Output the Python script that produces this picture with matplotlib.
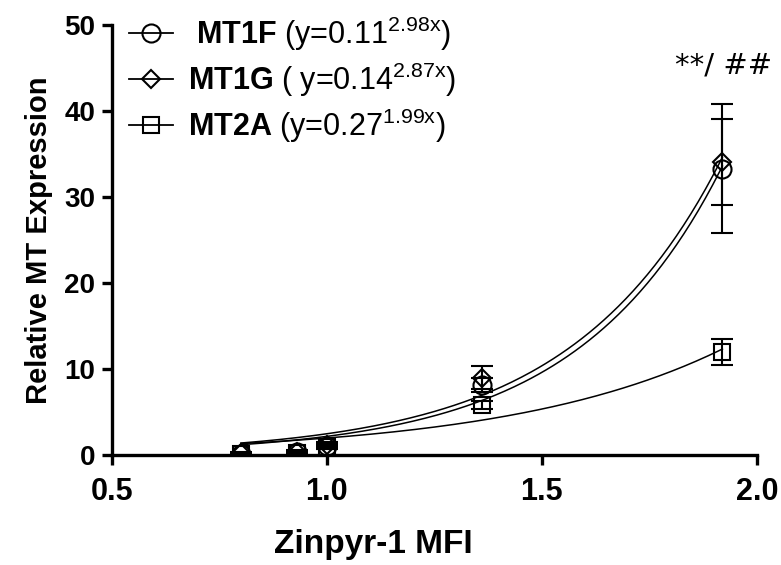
import numpy as np
import matplotlib.pyplot as plt

plt.rcParams['font.family'] = ['Liberation Sans', 'DejaVu Sans']
plt.rcParams['mathtext.fontset'] = 'custom'
plt.rcParams['mathtext.rm'] = 'Liberation Sans'
plt.rcParams['mathtext.it'] = 'Liberation Sans:italic'
plt.rcParams['mathtext.bf'] = 'Liberation Sans:bold'

# Zinpyr-1 MFI for each group
x_mfi = [0.80, 0.93, 1.00, 1.36, 1.92]

# relative expression (mean) and error
mt1f = [0.1, 0.3, 1.0, 8.1, 33.3]
mt1f_err = [0.1, 0.2, 0.3, 0.8, 7.5]
mt1g = [0.2, 0.4, 1.2, 9.0, 34.1]
mt1g_err = [0.1, 0.2, 0.3, 1.3, 5.0]
mt2a = [0.1, 0.2, 0.9, 5.8, 12.0]
mt2a_err = [0.1, 0.1, 0.2, 0.5, 1.5]

# exponential fit parameters y = a * exp(b * x)
names = ['MT1F', 'MT1G', 'MT2A']
fit_a = [0.11, 0.14, 0.27]
fit_b = [2.98, 2.87, 1.99]
markers = ['o', 'D', 's']
msizes = [13, 9.5, 12]

series = [(mt1f, mt1f_err), (mt1g, mt1g_err), (mt2a, mt2a_err)]

fig = plt.figure(figsize=(7.81, 5.65), dpi=100)
ax = fig.add_axes([0.1434, 0.1947, 0.8256, 0.7611])

xfit = np.linspace(min(x_mfi), max(x_mfi), 200)
handles = []
for i, (vals, errs) in enumerate(series):
    ax.errorbar(x_mfi, vals, yerr=errs, fmt='none', ecolor='black',
                elinewidth=1.5, capsize=8, capthick=1.5, zorder=2)
    ax.plot(xfit, fit_a[i] * np.exp(fit_b[i] * xfit), color='black', lw=1.1, zorder=2)
    ax.plot(x_mfi, vals, linestyle='none', marker=markers[i], ms=msizes[i],
            mfc='none', mec='black', mew=1.5, zorder=3)
    h, = ax.plot([], [], color='black', lw=1.3, marker=markers[i], ms=msizes[i],
                 mfc='none', mec='black', mew=1.5)
    handles.append(h)

labels = [r' $\mathbf{MT1F}$ (y=0.11$^{\mathrm{2.98x}}$)',
          r'$\mathbf{MT1G}$ ( y=0.14$^{\mathrm{2.87x}}$)',
          r'$\mathbf{MT2A}$ (y=0.27$^{\mathrm{1.99x}}$)']
ax.legend(handles, labels, loc='upper left', bbox_to_anchor=(0.026, 1.024),
          borderaxespad=0, borderpad=0, frameon=False, fontsize=22,
          handlelength=1.45, labelspacing=0.25, handletextpad=0.5)

ax.text(1.923, 44.4, '**/ ##', ha='center', va='baseline', fontsize=21,
        family='DejaVu Sans')

ax.set_xlim(0.5, 2.0)
ax.set_ylim(0, 50)
ax.set_xticks([0.5, 1.0, 1.5, 2.0])
ax.set_yticks([0, 10, 20, 30, 40, 50])
ax.xaxis.set_major_formatter(plt.FuncFormatter(lambda v, p: f'{v:.1f}'))

for s in ['top', 'right']:
    ax.spines[s].set_visible(False)
for s in ['left', 'bottom']:
    ax.spines[s].set_linewidth(2.4)
ax.tick_params(width=2.4, length=7)
ax.tick_params(axis='x', labelsize=22, pad=9)
ax.tick_params(axis='y', labelsize=20, pad=5)
for lab in ax.get_xticklabels() + ax.get_yticklabels():
    lab.set_fontweight('bold')

ax.set_xlabel('Zinpyr-1 MFI', fontsize=24, fontweight='bold')
ax.xaxis.set_label_coords(0.405, -0.172)
ax.set_ylabel('Relative MT Expression', fontsize=21, fontweight='bold', labelpad=8)

fig.savefig('out.png', dpi=100)
